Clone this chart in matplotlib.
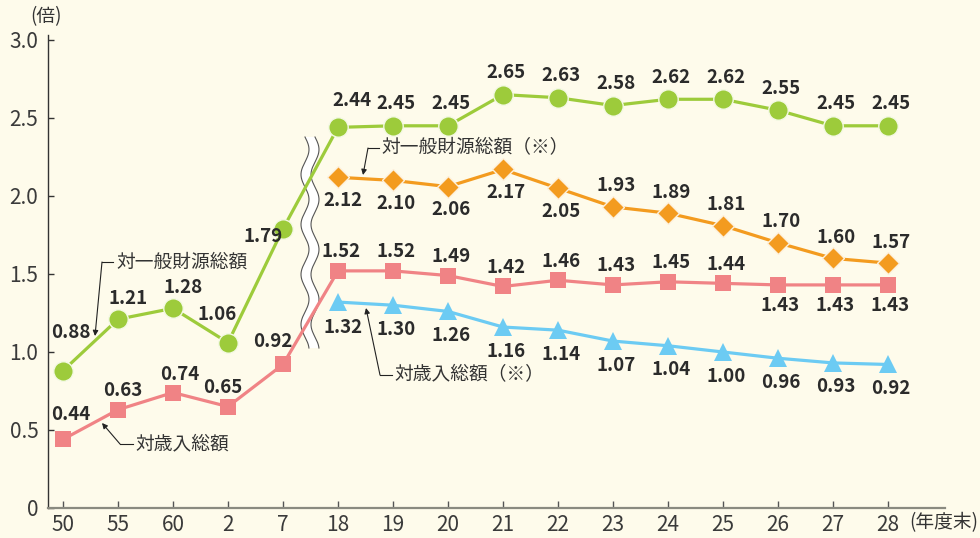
import numpy as np
import matplotlib
matplotlib.use("Agg")
import matplotlib.pyplot as plt

plt.rcParams['font.family'] = ['Noto Sans CJK JP', 'DejaVu Sans']

# ---- data ----
x_labels = ["50", "55", "60", "2", "7", "18", "19", "20", "21", "22",
            "23", "24", "25", "26", "27", "28"]
general = [0.88, 1.21, 1.28, 1.06, 1.79, 2.44, 2.45, 2.45, 2.65, 2.63,
           2.58, 2.62, 2.62, 2.55, 2.45, 2.45]
revenue = [0.44, 0.63, 0.74, 0.65, 0.92, 1.52, 1.52, 1.49, 1.42, 1.46,
           1.43, 1.45, 1.44, 1.43, 1.43, 1.43]
general_new = [2.12, 2.10, 2.06, 2.17, 2.05, 1.93, 1.89, 1.81, 1.70, 1.60, 1.57]
revenue_new = [1.32, 1.30, 1.26, 1.16, 1.14, 1.07, 1.04, 1.00, 0.96, 0.93, 0.92]
new_start = 5
y_ticks = [0, 0.5, 1.0, 1.5, 2.0, 2.5, 3.0]
y_tick_labels = ["0", "0.5", "1.0", "1.5", "2.0", "2.5", "3.0"]

BG = '#fefbeb'
GREEN = '#9dcb3b'
ORANGE = '#f39b1f'
PINK = '#f08385'
BLUE = '#6ccbf3'
TXT = '#2b2b2b'

W, H = 980, 538
fig = plt.figure(figsize=(W / 100, H / 100), dpi=100, facecolor=BG)
ax = fig.add_axes([48 / W, (H - 508) / H, (945 - 48) / W, (508 - 35) / H])
ax.set_facecolor(BG)

n = len(x_labels)
xi = np.arange(n)
xn = np.arange(new_start, n)

ax.set_xlim(-15 / 55, 15 + 57 / 55)
ax.set_ylim(0, (508 - 35) / 156)

# break symbol (behind lines)
def px2d(px, py):
    return (px - 63) / 55, (508 - py) / 156

t = np.linspace(137, 348, 300)
amp = 4.0
per = 50
lx = 305 + amp * np.sin(2 * np.pi * (t - 137) / per)
rx = lx + 10
L = np.array([px2d(a, b) for a, b in zip(lx, t)])
R = np.array([px2d(a, b) for a, b in zip(rx, t)])
poly = np.vstack([L, R[::-1]])
ax.fill(poly[:, 0], poly[:, 1], color='white', zorder=1, lw=0)
ax.plot(L[:, 0], L[:, 1], color='#555555', lw=0.8, zorder=1.5)
ax.plot(R[:, 0], R[:, 1], color='#555555', lw=0.8, zorder=1.5)

lw = 2.3
ax.plot(xi, general, color=GREEN, lw=lw, marker='o', ms=14, mfc=GREEN,
        mec='#f4f9e4', mew=1.0, zorder=3)
ax.plot(xi, revenue, color=PINK, lw=lw, marker='s', ms=12, mfc=PINK,
        mec=PINK, mew=0, zorder=3)
ax.plot(xn, general_new, color=ORANGE, lw=lw, marker='D', ms=11, mfc=ORANGE,
        mec='#fdf0dc', mew=1.0, zorder=3)
ax.plot(xn, revenue_new, color=BLUE, lw=lw, marker='^', ms=13, mfc=BLUE,
        mec=BLUE, mew=0, zorder=3)

LBL = dict(fontsize=13.5, fontweight='bold', color=TXT, ha='center', va='center',
           textcoords='offset points', zorder=5)
k = 0.72

def lab(x, y, dx, dy):
    ax.annotate(f"{y:.2f}", xy=(x, y), xytext=(dx * k, dy * k), **LBL)

# green labels
g_off = {0: (8, 38), 1: (10, 21), 2: (10, 21), 3: (-11, 28), 4: (-20, -8), 5: (14, 27)}
for i, v in enumerate(general):
    dx, dy = g_off.get(i, (3, 22))
    lab(i, v, dx, dy)

# pink labels
p_off = {0: (8, 25), 1: (5, 19), 2: (7, 18), 3: (-5, 19), 4: (-10, 23)}
for i, v in enumerate(revenue):
    if i in p_off:
        dx, dy = p_off[i]
    elif i >= 13:
        dx, dy = (2, -21)
    else:
        dx, dy = (3, 19)
    lab(i, v, dx, dy)

# orange labels
for j, v in enumerate(general_new):
    i = new_start + j
    if j == 0:
        dx, dy = (5, -23)
    elif i <= 9:
        dx, dy = (3, -23)
    else:
        dx, dy = (3, 21)
    lab(i, v, dx, dy)

# blue labels
for j, v in enumerate(revenue_new):
    i = new_start + j
    dx, dy = (5, -25) if j == 0 else (3, -24)
    lab(i, v, dx, dy)

# series annotations (figure pixel coords)
def fp(px, py):
    return (px, H - py)

ann_kw = dict(fontsize=13.5, color='#333333', va='center', ha='left', zorder=6)
arrow = dict(arrowstyle='-|>', color='#222222', lw=0.8, mutation_scale=8,
             shrinkA=0, shrinkB=0)

def leader(text, tx, ty, hx0, hx1, tip):
    fig.text(tx / W, (H - ty) / H, text, **ann_kw)
    fig.add_artist(plt.Line2D([hx0 / W, hx1 / W], [(H - ty) / H, (H - ty) / H],
                              color='#222222', lw=0.8))
    ax.annotate('', xy=fp(*tip), xycoords='figure pixels',
                xytext=fp(hx0, ty), textcoords='figure pixels',
                arrowprops=arrow, zorder=6)

leader("対一般財源総額", 116, 262, 102, 113, (95, 336))
leader("対歳入総額", 135, 444, 120, 133, (102, 423))
leader("対一般財源総額（※）", 381, 148, 368, 379, (363, 175))
leader("対歳入総額（※）", 394, 375, 380, 392, (366, 308))

# axes styling
for s in ['top', 'right']:
    ax.spines[s].set_visible(False)
ax.spines['left'].set_color('#333333')
ax.spines['left'].set_linewidth(1.0)
ax.spines['bottom'].set_color('#8a8a80')
ax.spines['bottom'].set_linewidth(1.6)

ax.set_xticks(xi)
ax.set_xticklabels(x_labels)
ax.set_yticks(y_ticks)
ax.set_yticklabels(y_tick_labels)
ax.tick_params(axis='y', direction='in', length=4, width=1, color='#333333',
               pad=7, labelsize=15, labelcolor='#3a3a3a')
ax.tick_params(axis='x', direction='in', length=5, width=1, color='#555555',
               pad=4, labelsize=15, labelcolor='#3a3a3a')

fig.text(46 / W, (H - 17) / H, "(倍)", fontsize=13.5, color='#333333',
         ha='center', va='center')
fig.text(909 / W, (H - 523) / H, "(年度末)", fontsize=13.5, color='#333333',
         ha='left', va='center')

fig.savefig("out.png", dpi=100, facecolor=BG)
